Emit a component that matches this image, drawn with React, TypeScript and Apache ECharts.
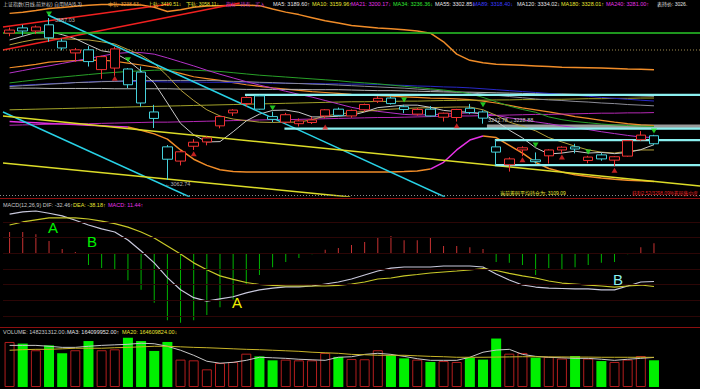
import React, { useEffect, useRef } from "react";
import * as echarts from "echarts";

// ---------- data ----------
const DATES = [
  "2018-01-24","2018-01-25","2018-01-26","2018-01-29","2018-01-30","2018-01-31","2018-02-01","2018-02-02","2018-02-05","2018-02-06",
  "2018-02-07","2018-02-08","2018-02-09","2018-02-12","2018-02-13","2018-02-14","2018-02-22","2018-02-23","2018-02-26","2018-02-27",
  "2018-02-28","2018-03-01","2018-03-02","2018-03-05","2018-03-06","2018-03-07","2018-03-08","2018-03-09","2018-03-12","2018-03-13",
  "2018-03-14","2018-03-15","2018-03-16","2018-03-19","2018-03-20","2018-03-21","2018-03-22","2018-03-23","2018-03-26","2018-03-27",
  "2018-03-28","2018-03-29","2018-03-30","2018-04-02","2018-04-03","2018-04-04","2018-04-09","2018-04-10","2018-04-11","2018-04-12",
];
const PAD_CATS = [" ", "  ", "   "];

const OPEN = [3538,3555,3545,3565,3512,3474,3484,3420,3425,3422,3412,3283,3170,3124,3172,3186,3238,3280,3310,3335,3268,3250,3245,3249,3270,3292,3270,3290,3318,3328,3300,3276,3292,3266,3265,3295,3283,3170,3112,3160,3128,3141,3160,3170,3126,3144,3127,3140,3193,3206];
const CLOSE = [3548,3545,3558,3523,3490,3484,3446,3462,3487,3371,3312,3262,3130,3154,3185,3199,3268,3289,3330,3292,3259,3274,3254,3257,3290,3272,3288,3307,3327,3310,3291,3291,3270,3279,3291,3281,3263,3153,3131,3167,3122,3160,3169,3163,3137,3131,3138,3190,3208,3180];
const LOW = [3528,3530,3535,3510,3482,3445,3430,3390,3400,3360,3300,3231,3062.74,3110,3160,3175,3230,3270,3300,3290,3250,3245,3236,3244,3262,3270,3264,3284,3312,3307,3279,3271,3268,3252,3252,3276,3245,3111,3090,3140,3116,3116,3147,3149,3117,3125,3107,3138,3190,3176];
const HIGH = [3556,3565,3563,3587.03,3520,3490,3496,3465,3494,3425,3430,3306,3176,3160,3195,3204,3270,3292,3333,3338,3284,3280,3262,3267,3292,3297,3291,3310,3334,3333,3306,3296,3302,3281,3293,3309,3288,3192,3136,3172,3152,3162,3172,3180,3141,3150,3140,3192,3221,3209];

const MA5 = [3516,3528,3540,3544,3533,3520,3500,3481,3474,3450,3415,3377,3312,3246,3209,3186,3187,3219,3254,3276,3288,3289,3282,3267,3267,3269,3272,3283,3297,3301,3305,3305,3298,3288,3284,3282,3277,3253,3224,3199,3167,3147,3150,3156,3150,3152,3148,3152,3161,3177];
const MA10 = [3500,3510,3518,3520,3520,3518,3516,3510,3503,3485,3467,3440,3400,3354,3320,3290,3270,3260,3255,3250,3249,3250,3250,3258,3270,3276,3281,3285,3289,3292,3294,3296,3297,3298,3299,3299,3290,3272,3250,3237,3222,3200,3186,3172,3160,3153,3150,3156,3160,3160];
const MA21 = [3409,3417,3425,3432,3440,3448,3456,3464,3472,3475,3475,3470,3458,3445,3432,3418,3405,3393,3381,3370,3360,3350,3340,3331,3320,3309,3298,3290,3285,3280,3275,3273,3274,3276,3278,3280,3278,3272,3264,3258,3251,3245,3238,3232,3226,3219,3213,3207,3202,3200.17];
const MA34 = [3377,3382,3387,3392,3396,3400,3404,3408,3411,3414,3416,3418,3419,3419,3418,3416,3414,3410,3406,3402,3399,3396,3393,3390,3387,3384,3380,3377,3374,3370,3366,3362,3358,3354,3349,3342,3330,3316,3302,3291,3282,3267,3258,3252,3248,3244,3241,3239,3237,3236.36];
const MA55 = [3365,3368,3370,3373,3375,3378,3379,3381,3382,3384,3385,3385,3385,3385,3385,3385,3384,3382,3381,3379,3378,3376,3375,3373,3372,3370,3368,3366,3364,3362,3360,3357,3354,3351,3348,3345,3341,3337,3333,3329,3325,3322,3320,3317,3315,3312,3310,3307,3305,3302.85];
const MA89 = [3368,3370,3372,3374,3376,3378,3380,3382,3382,3382,3381,3381,3380,3380,3380,3379,3379,3378,3377,3377,3376,3376,3375,3375,3374,3374,3373,3373,3372,3370,3369,3367,3366,3364,3363,3361,3358,3355,3352,3349,3346,3343,3340,3337,3334,3330,3327,3324,3321,3318.4];
const MA120 = [3360,3360,3360,3359,3359,3359,3359,3359,3358,3358,3358,3358,3358,3357,3357,3357,3357,3357,3356,3356,3356,3356,3356,3355,3355,3355,3354,3353,3352,3352,3351,3350,3349,3348,3347,3347,3346,3345,3344,3343,3342,3341,3341,3340,3339,3338,3337,3336,3335,3334.02];
const MA180 = [3290,3291,3292,3293,3294,3295,3296,3297,3298,3299,3300,3301,3302,3303,3304,3305,3306,3307,3308,3309,3310,3311,3312,3313,3314,3315,3316,3316,3317,3317,3318,3318,3319,3320,3320,3321,3321,3322,3322,3323,3323,3324,3324,3325,3326,3326,3327,3327,3328,3328.01];
const MA240 = [3240,3241,3242,3243,3244,3245,3245,3246,3247,3248,3249,3250,3250,3251,3252,3253,3254,3255,3256,3257,3258,3258,3259,3260,3261,3262,3263,3264,3265,3265,3266,3267,3268,3269,3270,3270,3271,3272,3273,3274,3275,3275,3276,3277,3278,3279,3279,3280,3280,3281.0];

const BOLL_UP = [3602,3606,3611,3618,3621,3625,3628,3631,3631,3630,3629,3622,3608,3614,3622,3626,3627,3628,3628,3627,3616,3606,3598,3588,3578,3571,3563,3559,3555,3552,3549,3545,3538,3510,3470,3450,3442,3437,3436,3434,3432,3430,3428,3427,3426,3425,3424,3422,3421,3419.51];
const BOLL_MID = [3426,3431,3437,3444,3447,3449,3450,3451,3447,3441,3435,3428,3418,3408,3397,3391,3385,3378,3371,3366,3361,3357,3353,3349,3346,3343,3340,3338,3336,3334,3332,3330,3328,3327,3325,3323,3318,3312,3304,3296,3290,3283,3276,3268,3262,3256,3250,3245,3241,3238.63];
const BOLL_LOW = [3252,3250,3248,3246,3244,3242,3240,3238,3236,3234,3224,3212,3195,3160,3130,3110,3096,3090,3089,3089,3089,3089,3089,3089,3089,3089,3089,3089,3089,3089,3090,3092,3098,3120,3160,3192,3205,3200,3175,3150,3120,3100,3089,3080,3074,3069,3065,3062,3060,3058.11];
const BOLL_LOW_MAGENTA = [[0, 9], [32, 36]];

const SELL_SIGNALS = [[3,3600],[9,3452],[20,3296],[30,3322],[36,3306],[40,3176],[44,3153],[49,3221]];
const BUY_SIGNALS = [[8,3392],[14,3148],[24,3234],[34,3238],[39,3128],[42,3137],[46,3094]];

// trend / level lines: [slot, price] end points
const RED_TRENDS = [[[-0.5,3557.9],[12.2,3632.3]], [[-0.5,3483.5],[17.5,3635.6]]];
const CYAN_TRENDS = [[[2.92,3596.7],[33.1,3007.8]], [[-0.5,3282.8],[13.7,3007.8]]];
const YELLOW_TRENDS = [[[-0.5,3269.9],[52.5,3043.4]], [[-0.5,3117.8],[25.9,3007.8]]];
const GREEN_LEVEL = 3538.5;
const DOTTED_LEVEL = 3483.5;
const CYAN_LEVELS = [[17.9,3338],[20.9,3228.88],[36.9,3192],[36.9,3111]];
const GREY_BAND = [36.3, 3242.78, 3228.88];

const MACD_DIF = [45,47.5,48.6,46,43,38,32.5,28,24.5,15.3,2.6,-11,-28,-42,-51,-55,-52.5,-50,-45.6,-42,-40,-38.6,-38.6,-37.6,-35.3,-33,-29.6,-25,-20.4,-17,-15.8,-15.8,-15.8,-14.6,-14.6,-14.6,-15.8,-23.8,-30.7,-36.5,-38.8,-40,-40.5,-41,-41,-42,-42,-37.6,-33,-32.46];
const MACD_DEA = [32.5,36,38.3,40.6,40.6,40.6,39.4,37,34,30,24.5,17.6,8.4,-0.8,-11,-19,-26,-30,-33.6,-35.9,-37,-37.6,-37.6,-37.6,-37.6,-36.8,-35.3,-33,-29.6,-28.4,-26,-24.4,-22.7,-21.5,-20.4,-19.2,-17.5,-19.8,-23.2,-26,-28.4,-31.9,-34.2,-35.3,-36.5,-37.6,-38.8,-37.6,-36.5,-38.18];
const MACD_HIST = [24.5,24.5,22,14,5,1.5,-13.5,-17,-19,-31,-42,-57,-77,-80,-77,-71,-62,-53,-36.5,-25,-16,-10,-5.5,-1,4,6,9.5,13,17.5,20,15,15,17.5,8.5,8.5,7,5,-10,-11,-13.5,-25,-17,-19,-16,-13.5,-11,-10,-1,7,11.44];
const MACD_GRID = [36, 18, 0, -18, -36, -54, -72];

// volume in millions
const VOLUME = [250,241,204,231,187,204,255,204,209,274,255,200,250,152,148,98,133,139,185,170,148,152,148,148,189,167,155,154,204,176,159,152,139,144,139,163,152,269,185,189,163,167,158,172,158,144,139,152,172,148.23];
const VOL_MA3 = [231,231,231,226,220,220,226,231,234,237,243,240,226,204,176,143,132,137,148,165,162,159,154,151,148,165,168,181,187,181,170,157,148,148,148,165,193,205,209,181,170,165,162,159,159,154,148,154,159,164.1];
const VOL_MA20 = [204,207,209,209,212,215,215,215,218,220,223,226,226,223,220,218,215,212,209,207,204,201,198,193,190,187,181,179,176,176,176,173,170,168,165,165,165,166,167,168,168,167,167,166,166,165,165,165,164.8,164.6];

// ---------- helpers ----------
const FONT = '"Liberation Sans","Noto Sans CJK SC",sans-serif';

const txt = (x: number, y: number, text: string, fill: string, size = 5.5) => ({
  type: "text", x, y, silent: true, z: 100,
  style: { text, fill, fontSize: size, fontFamily: FONT, verticalAlign: "middle" },
});
const hline = (y: number, stroke: string, dash?: number[]) => ({
  type: "line", silent: true, z: 50,
  shape: { x1: 0, y1: y, x2: 700, y2: y },
  style: { stroke, lineWidth: 1, lineDash: dash },
});

const maLine = (data: (number | null)[], color: string, width = 1, z = 2) => ({
  type: "line", xAxisIndex: 0, yAxisIndex: 0, data, symbol: "none", showSymbol: false,
  silent: true, connectNulls: false, lineStyle: { color, width }, z,
});
const segLine = (pts: number[][], color: string, width = 1.5, extra: any = {}) => ({
  type: "line", xAxisIndex: 1, yAxisIndex: 0, data: pts, symbol: "none", showSymbol: false,
  silent: true, lineStyle: { color, width, ...(extra.lineStyle || {}) }, z: 3,
  ...extra.rest,
});

const inAny = (i: number, r: number[][]) => r.some(([a, b]) => i >= a && i <= b);
const inAnyStrict = (i: number, r: number[][]) => r.some(([a, b]) => i > a && i < b);

export default function App() {
  const ref = useRef<HTMLDivElement>(null);
  useEffect(() => {
    document.body.style.margin = "0";
    document.body.style.background = "#fff";
    const chart = echarts.init(ref.current!, null, { renderer: "svg" });
    const cats = [...DATES, ...PAD_CATS];
    const candles = DATES.map((_, i) => [OPEN[i], CLOSE[i], LOW[i], HIGH[i]]);
    const volData = VOLUME.map((v, i) =>
      CLOSE[i] >= OPEN[i]
        ? { value: v, itemStyle: { color: "#000", borderColor: "#b41e1e", borderWidth: 1 } }
        : { value: v, itemStyle: { color: "#00f000" } }
    );

    const series: any[] = [
      // Bollinger-style bands
      maLine(BOLL_UP, "#f08c28", 1.5),
      maLine(BOLL_MID, "#f08c28", 1.2),
      maLine(BOLL_LOW.map((v, i) => (inAnyStrict(i, BOLL_LOW_MAGENTA) ? null : v)), "#f08c28", 1.5),
      maLine(BOLL_LOW.map((v, i) => (inAny(i, BOLL_LOW_MAGENTA) ? v : null)), "#e632e6", 1.5),
      // moving averages
      maLine(MA240, "#b428b4"),
      maLine(MA180, "#a0a028"),
      maLine(MA120, "#b4b4b4"),
      maLine(MA89, "#2828c8"),
      maLine(MA55, "#8c8c96"),
      maLine(MA34, "#28a028"),
      maLine(MA21, "#b432c8"),
      maLine(MA10, "#b4a03c"),
      maLine(MA5, "#c8c8c8"),
      // trend lines
      ...RED_TRENDS.map((p) => segLine(p, "#f02020", 1.5)),
      ...CYAN_TRENDS.map((p) => segLine(p, "#28d2e6", 1.5)),
      ...YELLOW_TRENDS.map((p) => segLine(p, "#dcdc28", 1.5)),
      segLine([[-0.5, GREEN_LEVEL], [52.5, GREEN_LEVEL]], "#28c828", 1.5),
      segLine([[-0.5, DOTTED_LEVEL], [52.5, DOTTED_LEVEL]], "#a08c50", 1, { lineStyle: { type: [1, 2] } }),
      ...CYAN_LEVELS.map(([s, p], k) =>
        segLine([[s, p], [52.5, p]], "#8cf0f0", 2.2,
          k === 1
            ? {
                rest: {
                  markArea: {
                    silent: true,
                    itemStyle: { color: "#9a9a9a" },
                    data: [[{ coord: [GREY_BAND[0], GREY_BAND[1]] }, { coord: [52.5, GREY_BAND[2]] }]],
                  },
                },
              }
            : {}
        )
      ),
      // candles
      {
        type: "candlestick", xAxisIndex: 0, yAxisIndex: 0, data: candles, barWidth: "76%", z: 6, silent: true,
        itemStyle: { color: "#000", color0: "#000", borderColor: "#f03232", borderColor0: "#46d2dc", borderWidth: 1 },
      },
      {
        type: "scatter", xAxisIndex: 0, yAxisIndex: 0, data: SELL_SIGNALS, symbol: "triangle", symbolRotate: 180,
        symbolSize: [6, 5], itemStyle: { color: "#28f028" }, z: 7, silent: true,
      },
      {
        type: "scatter", xAxisIndex: 0, yAxisIndex: 0, data: BUY_SIGNALS, symbol: "triangle",
        symbolSize: [6, 5], itemStyle: { color: "#f02828" }, z: 7, silent: true,
      },
      // MACD
      {
        type: "bar", xAxisIndex: 2, yAxisIndex: 1, data: MACD_HIST, barWidth: 1, silent: true,
        itemStyle: { color: (p: any) => (p.value >= 0 ? "#c83232" : "#00b400") },
        markLine: {
          silent: true, symbol: "none", label: { show: false },
          lineStyle: { color: "#2c0606", type: "solid", width: 1 },
          data: MACD_GRID.map((v) => ({ yAxis: v })),
        },
      },
      { type: "line", xAxisIndex: 2, yAxisIndex: 1, data: MACD_DIF, symbol: "none", silent: true, lineStyle: { color: "#c8c8dc", width: 1.2 } },
      { type: "line", xAxisIndex: 2, yAxisIndex: 1, data: MACD_DEA, symbol: "none", silent: true, lineStyle: { color: "#c8c828", width: 1.2 } },
      // Volume
      { type: "bar", xAxisIndex: 3, yAxisIndex: 2, data: volData, barWidth: "76%", silent: true },
      { type: "line", xAxisIndex: 3, yAxisIndex: 2, data: VOL_MA3, symbol: "none", silent: true, lineStyle: { color: "#c8c8c8", width: 1 }, z: 4 },
      { type: "line", xAxisIndex: 3, yAxisIndex: 2, data: VOL_MA20, symbol: "none", silent: true, lineStyle: { color: "#c8b428", width: 1 }, z: 4 },
    ];

    const hidden = { show: false };
    const option: any = {
      animation: false,
      backgroundColor: "#000",
      grid: [
        { left: 3, right: 0, top: 2, height: 194 },
        { left: 3, right: 0, top: 207, height: 119 },
        { left: 3, right: 0, top: 333, height: 54 },
      ],
      xAxis: [
        { type: "category", gridIndex: 0, data: cats, boundaryGap: true, ...hidden },
        { type: "value", gridIndex: 0, min: -0.5, max: 52.5, ...hidden },
        { type: "category", gridIndex: 1, data: cats, boundaryGap: true, ...hidden },
        { type: "category", gridIndex: 2, data: cats, boundaryGap: true, ...hidden },
      ],
      yAxis: [
        { type: "value", gridIndex: 0, min: 3011, max: 3638.8, ...hidden },
        { type: "value", gridIndex: 1, min: -83.6, max: 53.2, ...hidden },
        { type: "value", gridIndex: 2, min: 0, max: 299.7, ...hidden },
      ],
      series,
      graphic: [
        hline(195.5, "#8c8c8c", [1, 2]),
        hline(198.5, "#8c0f0f"),
        hline(327.5, "#8c0f0f"),
        // top legend
        txt(3, 4, "上证指数(日线,前复权) 自用MA(6,3)", "#c8c8c8", 5),
        txt(108, 4, "中轨: 3238.63↓", "#e6a03c", 5),
        txt(148, 4, "上轨: 3419.51↓", "#e6e632", 5),
        txt(186, 4, "下轨: 3058.11↓", "#e6e632", 5),
        txt(226, 4, "指标 · 持有 · 买入", "#c832c8", 5),
        txt(273, 4, "MA5: 3189.60↑", "#e6e6e6"),
        txt(312, 4, "MA10: 3159.96↑", "#e6e632"),
        txt(351, 4, "MA21: 3200.17↓", "#e632e6"),
        txt(393, 4, "MA34: 3236.36↓", "#32e632"),
        txt(435, 4, "MA55: 3302.85↓", "#e6e6e6"),
        txt(473, 4, "MA89: 3318.40↓", "#3c3cff"),
        txt(517, 4, "MA120: 3334.02↓", "#e6e6e6"),
        txt(561, 4, "MA180: 3328.01↑", "#e6e632"),
        txt(606, 4, "MA240: 3281.00↑", "#e632e6"),
        txt(657, 4, "表持价: 3026.", "#e6e6e6", 5),
        // main annotations
        txt(55, 20, "3587.03", "#b4b4b4"),
        txt(165, 184, "←3062.74", "#b4b4b4"),
        txt(488, 120, "3242.78→3228.88", "#c8c8c8"),
        txt(500, 193, "当前筹码平均持仓为: 3109.09", "#e6e632", 5),
        txt(632, 193, "获利2.52/3298.09%筹码集中度", "#e62020", 4.8),
        // MACD title
        txt(3, 205, "MACD(12,26,9) DIF: -32.46↑", "#c8c8c8"),
        txt(73, 205, "DEA: -38.18↑", "#e6e632"),
        txt(108, 205, "MACD: 11.44↑", "#e632e6"),
        // MACD letters
        txt(48, 227, "A", "#00f000", 15),
        txt(87, 241, "B", "#00f000", 15),
        txt(232, 302, "A", "#f0f000", 15),
        txt(613, 279, "B", "#8cf0f0", 15),
        // Volume title
        txt(3, 332, "VOLUME: 148231312.00↓", "#c8c8c8"),
        txt(67, 332, "MA3: 164099952.00↑", "#e6e6e6"),
        txt(122, 332, "MA20: 164609824.00↓", "#e6e632"),
      ],
    };
    chart.setOption(option);
    return () => chart.dispose();
  }, []);
  return <div ref={ref} style={{ width: 700, height: 389, background: "#000" }} />;
}
